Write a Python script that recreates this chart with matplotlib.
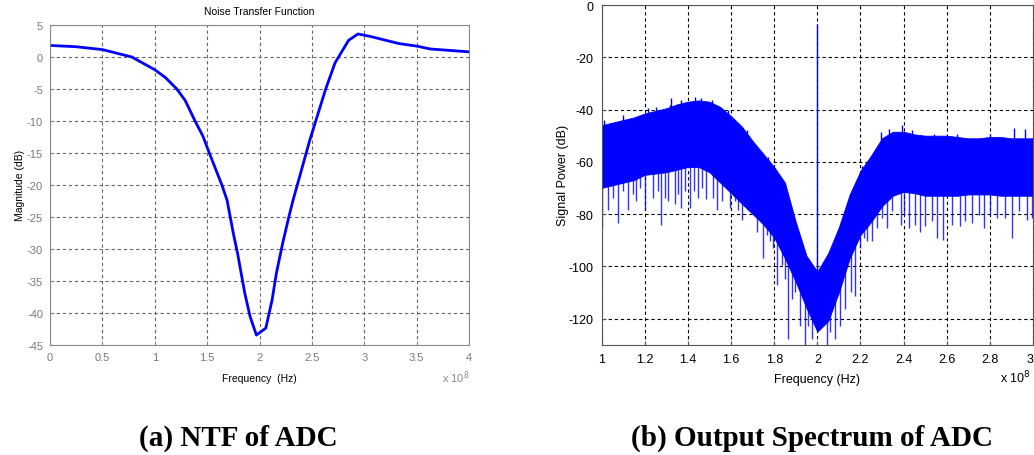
import matplotlib.pyplot as plt
import numpy as np

plt.rcParams['axes.unicode_minus'] = False

# (a) noise transfer function, frequency in units of 1e8 Hz
ntf_freq = [0.0, 0.25, 0.5, 0.78, 1.0, 1.1, 1.21, 1.29, 1.384, 1.46, 1.52, 1.58, 1.64, 1.69,
            1.72, 1.75, 1.79, 1.86, 1.91, 1.97, 2.06, 2.12, 2.16, 2.22, 2.28, 2.32, 2.48,
            2.63, 2.72, 2.85, 2.94, 3.06, 3.33, 3.5, 3.63, 4.0]
ntf_db = [1.8, 1.6, 1.15, 0.0, -2.0, -3.2, -5.0, -6.8, -10.0, -12.4, -15.0, -17.5, -20.0, -22.4,
          -25.0, -27.6, -30.7, -37.0, -40.6, -43.5, -42.4, -38.0, -33.9, -29.2, -25.0, -22.4,
          -13.0, -5.1, -0.95, 2.6, 3.6, 3.2, 2.1, 1.7, 1.25, 0.8]

# (b) output spectrum: dense noise band (upper / lower edge), read at 0.05e8 steps
spec_freq = [1.00, 1.05, 1.10, 1.15, 1.20, 1.25, 1.30, 1.35, 1.40, 1.45, 1.50, 1.55, 1.60, 1.65,
             1.70, 1.75, 1.80, 1.85, 1.90, 1.95, 2.00, 2.05, 2.10, 2.15, 2.20, 2.25, 2.30, 2.35,
             2.40, 2.45, 2.50, 2.55, 2.60, 2.65, 2.70, 2.75, 2.80, 2.85, 2.90, 2.95, 3.00]
spec_top = [-46, -45, -44, -43, -41.5, -40.5, -39.5, -38, -37, -36.5, -37, -39, -42.5, -46.5,
            -52, -57, -62, -68, -83, -96, -102, -95, -85, -72.5, -63.5, -57.5, -51, -48.5,
            -48.5, -49.5, -50, -50, -50, -50.5, -51, -51, -50.5, -50.5, -51, -51, -51]
spec_bottom = [-70, -69, -68, -67, -65, -64.5, -64, -63, -62, -62, -64, -68, -72, -76,
               -80, -84, -89, -97, -106, -116, -125, -121, -110, -97, -88, -83, -77, -73,
               -71.5, -72, -73, -73, -73, -73, -72.5, -72.5, -72.5, -73, -73, -73, -73]

# notches below the band
dip_freq = [1.001, 1.029, 1.052, 1.076, 1.099, 1.122, 1.145, 1.161, 1.176, 1.199, 1.238, 1.261,
            1.277, 1.292, 1.308, 1.339, 1.354, 1.37, 1.388, 1.408, 1.427, 1.447, 1.465, 1.485,
            1.518, 1.533, 1.557, 1.595, 1.618, 1.634, 1.653, 1.68, 1.704, 1.719, 1.75, 1.766,
            1.781, 1.796, 1.812, 1.835, 1.85, 1.866, 1.881, 1.897, 1.92, 1.943, 1.959, 1.974,
            2.045, 2.061, 2.084, 2.107, 2.13, 2.154, 2.177, 2.2, 2.216, 2.231, 2.254, 2.278,
            2.301, 2.324, 2.347, 2.386, 2.401, 2.425, 2.455, 2.478, 2.5, 2.531, 2.554, 2.585,
            2.624, 2.663, 2.686, 2.717, 2.748, 2.771, 2.802, 2.833, 2.871, 2.902, 2.933, 2.972,
            2.995]
dip_db = [-85.4, -78.3, -73.8, -83.4, -71.2, -78.3, -72.5, -75.1, -69.9, -78.3, -73.8, -71.2,
          -84.1, -73.8, -75.1, -76.3, -72.5, -77.6, -71.2, -77.6, -71.2, -73.8, -69.9, -74.4,
          -73.8, -78.3, -75.0, -77.6, -75.0, -78.3, -82.1, -78.3, -78.9, -86.7, -97.0, -88.0,
          -90.5, -93.1, -107.3, -99.6, -104.7, -127.9, -112.4, -109.9, -122.8, -130.0, -122.8, -128.0,
          -130.0, -125.3, -128.0, -122.8, -116.3, -109.9, -111.2, -93.1, -89.2, -90.5, -90.5, -85.4,
          -81.5, -85.4, -78.9, -84.1, -80.2, -85.4, -84.1, -86.7, -84.7, -82.8, -89.2, -89.9,
          -84.1, -84.7, -82.8, -83.4, -80.2, -85.4, -80.2, -81.5, -81.5, -89.2, -78.9, -82.1,
          -81.5]

# peaks above the band
peak_freq = [1.013, 1.099, 1.176, 1.215, 1.253, 1.315, 1.323, 1.37, 1.431, 1.462, 1.51, 1.588,
             1.673, 1.773, 1.843, 2.208, 2.293, 2.332, 2.394, 2.44, 2.539, 2.647, 2.802, 2.91,
             2.964]
peak_db = [-44.1, -42.2, -42.8, -39.6, -38.9, -38.3, -35.7, -36.4, -35.1, -35.7, -36.4, -40.2,
           -48.0, -58.3, -67.3, -61.5, -48.6, -47.3, -46.0, -48.0, -49.3, -49.3, -49.3, -47.0,
           -47.3]

tone_freq = 2.0
tone_db = -7.3

fig = plt.figure(figsize=(10.34, 4.56), dpi=100)
font = 'Liberation Sans'

# ---- (a) NTF ----
ax1 = fig.add_axes([0.0484, 0.2419, 0.4052, 0.7011])
ax1.plot(ntf_freq, ntf_db, color='#0000ff', lw=2)
ax1.set_xlim(0, 4)
ax1.set_ylim(-45, 5)
ax1.set_xticks(np.arange(0, 4.01, 0.5))
ax1.set_xticklabels(['0', '0.5', '1', '1.5', '2', '2.5', '3', '3.5', '4'])
ax1.set_yticks(np.arange(-45, 6, 5))
ax1.grid(True, color='#666666', linestyle=(0, (3, 2.5)), lw=0.8)
for s in ax1.spines.values():
    s.set_color('#8a8a8a')
ax1.tick_params(direction='in', length=3, colors='#8a8a8a', labelsize=8, labelcolor='#7a7a7a', pad=5)
for lab in ax1.get_xticklabels() + ax1.get_yticklabels():
    lab.set_family(font)
ax1.set_title('Noise Transfer Function', fontsize=7.5, family=font, pad=8)
ax1.set_xlabel('Frequency  (Hz)', fontsize=7.5, family=font, labelpad=8)
ax1.set_ylabel('Magnitude (dB)', fontsize=7.5, family=font, labelpad=1.7)
ax1.text(1.0, -0.075, r'x 10$^8$', transform=ax1.transAxes, ha='right', va='top',
         fontsize=8, color='#8a8a8a', family=font)

# ---- (b) output spectrum ----
ax2 = fig.add_axes([0.5819, 0.2419, 0.4171, 0.7449])
ax2.fill_between(spec_freq, spec_bottom, spec_top, color='#0000ff', lw=0.6, edgecolor='#0000ff')
dip_top = np.interp(dip_freq, spec_freq, spec_bottom) + 3
ax2.vlines(dip_freq, dip_db, dip_top, color='#0000ff', lw=1.0, alpha=0.8)
peak_base = np.interp(peak_freq, spec_freq, spec_top) - 2
ax2.vlines(peak_freq, peak_base, peak_db, color='#0000ff', lw=1.0)
ax2.vlines([tone_freq], [-104], [tone_db], color='#0000ff', lw=1.0)
ax2.set_xlim(1, 3)
ax2.set_ylim(-130, 0)
ax2.set_xticks(np.arange(1, 3.01, 0.2))
ax2.set_xticklabels(['1', '1.2', '1.4', '1.6', '1.8', '2', '2.2', '2.4', '2.6', '2.8', '3'])
ax2.get_xticklabels()[-1].set_horizontalalignment('right')
ax2.set_yticks(np.arange(-120, 1, 20))
ax2.grid(True, color='black', linestyle=(0, (3, 2.5)), lw=0.8)
ax2.set_axisbelow(True)
for s in ax2.spines.values():
    s.set_color('#555555')
ax2.tick_params(direction='in', length=3, colors='#555555', labelsize=9, labelcolor='black', pad=6)
for lab in ax2.get_xticklabels() + ax2.get_yticklabels():
    lab.set_family(font)
ax2.set_xlabel('Frequency (Hz)', fontsize=9, family=font, labelpad=6)
ax2.set_ylabel('Signal Power (dB)', fontsize=9, family=font, labelpad=-0.5)
ax2.text(0.995, -0.07, r'x 10$^8$', transform=ax2.transAxes, ha='right', va='top',
         fontsize=9, color='black', family=font)

fig.text(0.230, 0.022, '(a) NTF of ADC', ha='center', va='baseline', fontsize=21,
         fontweight='bold', family='Liberation Serif')
fig.text(0.785, 0.022, '(b) Output Spectrum of ADC', ha='center', va='baseline', fontsize=21,
         fontweight='bold', family='Liberation Serif')

fig.savefig('out.png', dpi=100)
